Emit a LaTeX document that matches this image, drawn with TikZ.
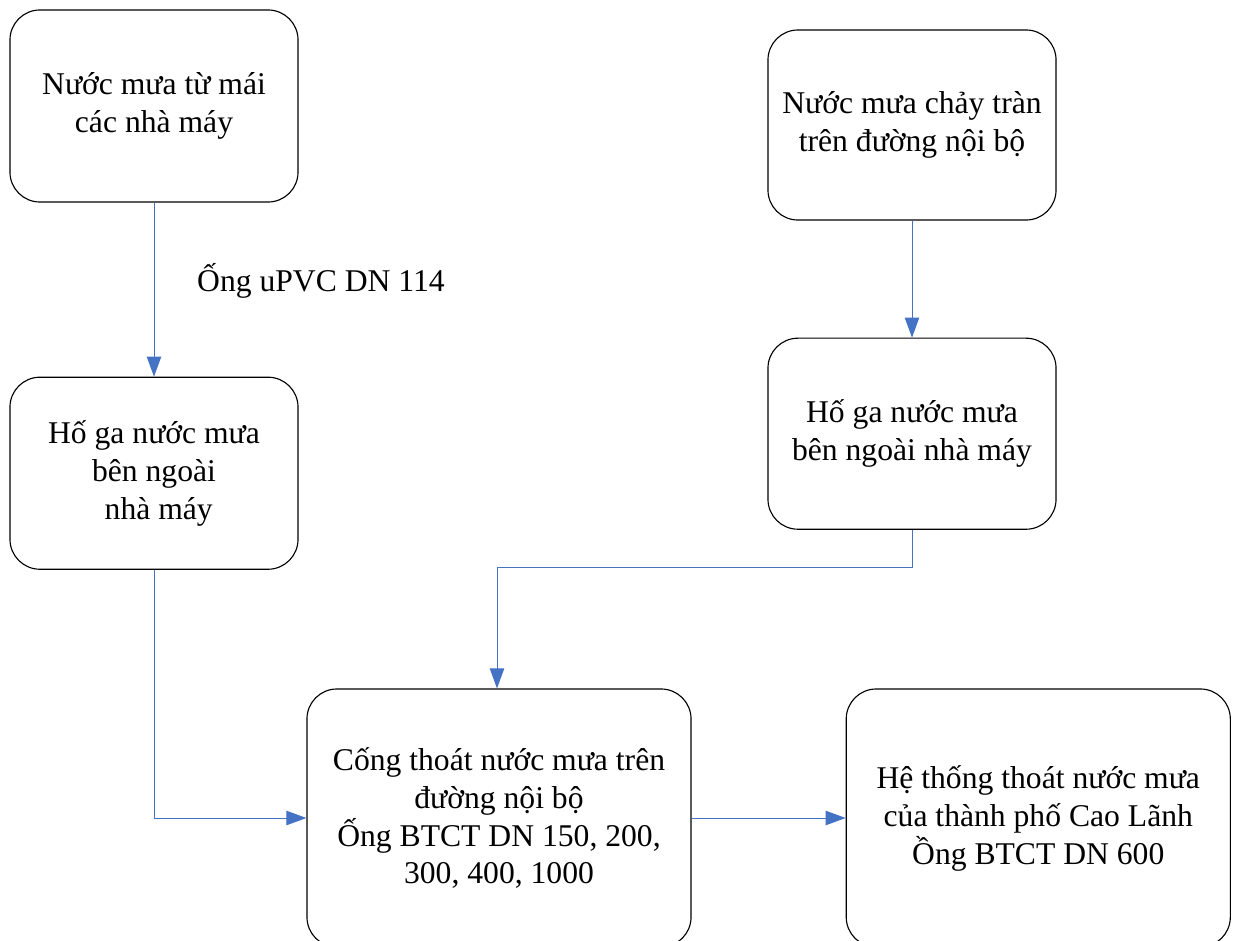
\documentclass[tikz,border=0pt]{standalone}
\usepackage{fontspec}
\setmainfont{Liberation Serif}
\usepackage{xcolor}
\usetikzlibrary{positioning, arrows.meta}
\definecolor{pipeblue}{HTML}{4472C4}

\begin{document}
\begin{tikzpicture}[
    x=0.025cm, y=-0.025cm,
    font=\fontsize{22.5}{27}\selectfont,
    box/.style={rectangle, draw, line width=0.8pt, rounded corners=0.75cm, minimum width=7.2cm, minimum height=4.8cm, align=center},
    bigbox/.style={box, minimum width=9.6cm, minimum height=6.45cm},
    flow/.style={draw=pipeblue, line width=0.7pt, -{Triangle[length=0.5cm, width=0.36cm]}}
]
    \useasboundingbox (0,0) rectangle (1235,940);
    % Left column - roof water
    \node[box] (roof) at (154,106) {Nước mưa từ mái\\các nhà máy};
    \node[box, below=4.35cm of roof] (pitL) {Hố ga nước mưa\\bên ngoài\\\hspace{0.3em}nhà máy};
    % Right column - road runoff
    \node[box, minimum height=4.75cm] (road) at (912,125) {Nước mưa chảy tràn\\trên đường nội bộ};
    \node[box, minimum height=4.775cm, below=2.925cm of road] (pitR) {Hố ga nước mưa\\bên ngoài nhà máy};
    % Bottom row - drains
    \node[bigbox] (drain) at (499,818) {Cống thoát nước mưa trên\\đường nội bộ\\Ống BTCT DN 150, 200,\\300, 400, 1000};
    \node[bigbox, right=3.85cm of drain] (city) {Hệ thống thoát nước mưa\\của thành phố Cao Lãnh\\Ồng BTCT DN 600};
    % Arrows
    \draw[flow] (roof) -- node[pos=0.45, right=0.95cm] {Ống uPVC DN 114} (pitL);
    \draw[flow] (road) -- (pitR);
    \draw[flow] (pitR.south) -- ++(0,38) -| ([xshift=-0.05cm]drain.north);
    \draw[flow] (pitL.south) |- (drain.west);
    \draw[flow] (drain) -- (city);
\end{tikzpicture}
\end{document}
